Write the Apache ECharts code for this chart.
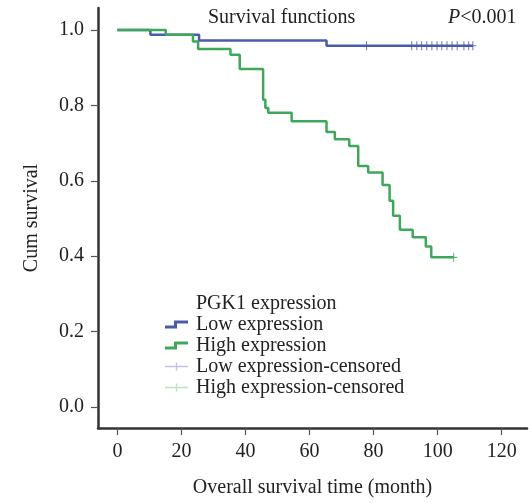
<!DOCTYPE html>
<html>
<head>
<meta charset="utf-8">
<script src="https://cdn.jsdelivr.net/npm/echarts@6/dist/echarts.min.js"></script>
<style>
html,body{margin:0;padding:0;background:#fff;}
#chart{width:529px;height:503px;}
</style>
</head>
<body>
<div id="chart"></div>
<script>
// ---- Data ----
var lowTimes = [0, 10.3, 25.5, 65.3, 111.0];
var lowSurv  = [1.0, 0.987, 0.972, 0.958, 0.958];

var highTimes = [0, 15.1, 23.6, 25.2, 35.3, 38.2, 45.5, 46.2, 47.1, 54.4, 65.3, 67.9, 72.4, 75.2, 78.3, 82.8, 85.0, 86.1, 88.2, 92.2, 96.3, 98.0, 105.0];
var highSurv  = [1.0, 0.987, 0.969, 0.949, 0.934, 0.896, 0.815, 0.793, 0.780, 0.758, 0.729, 0.710, 0.692, 0.639, 0.622, 0.589, 0.547, 0.507, 0.470, 0.450, 0.426, 0.397, 0.397];

var lowCensorTimes  = [77.8, 91.9, 93.5, 95.0, 96.6, 98.2, 99.8, 101.3, 102.9, 104.5, 106.1, 108.2, 109.7, 111.0];
var highCensorTimes = [105.0];

var xTicks = [0, 20, 40, 60, 80, 100, 120];
var yTicks = [0, 0.2, 0.4, 0.6, 0.8, 1.0];

var seriesNames = ['Low expression', 'High expression', 'Low expression-censored', 'High expression-censored'];

// ---- helpers ----
function pairs(t, s) { return t.map(function (v, i) { return [v, s[i]]; }); }
function survAt(t, times, surv) {
  var v = surv[0];
  for (var i = 0; i < times.length; i++) { if (times[i] <= t) v = surv[i]; }
  return v;
}
function censorPts(ct, times, surv) { return ct.map(function (t) { return [t, survAt(t, times, surv)]; }); }

var FONT = '"Liberation Serif", "Times New Roman", serif';
var BLUE = '#4a5ca8';
var GREEN = '#3ea85a';
var stepIcon = 'path://M0,6 H9 V1 H23 V4 H12 V9 H0 Z';
var plusIcon = 'path://M0,3.3 H23 V4.7 H0 Z M10.8,0 H12.2 V8 H10.8 Z';
var censorSym = 'path://M4.3,0 H5.7 V4.4 H10 V5.6 H5.7 V10 H4.3 V5.6 H0 V4.4 H4.3 Z';

var chart = echarts.init(document.getElementById('chart'), null, { renderer: 'canvas' });
chart.setOption({
  backgroundColor: '#ffffff',
  animation: false,
  textStyle: { fontFamily: FONT },
  title: [
    { text: 'Survival functions', left: 203, top: 3,
      textStyle: { fontFamily: FONT, fontSize: 20, fontWeight: 'normal', color: '#222' } },
    { text: '{i|P}<0.001', left: 443, top: 3,
      textStyle: { fontFamily: FONT, fontSize: 20, fontWeight: 'normal', color: '#222',
        rich: { i: { fontFamily: FONT, fontSize: 20, fontStyle: 'italic', color: '#222' } } } },
    { text: 'PGK1 expression', left: 191, top: 289,
      textStyle: { fontFamily: FONT, fontSize: 20, fontWeight: 'normal', color: '#222' } }
  ],
  legend: {
    orient: 'vertical',
    left: 160, top: 309,
    itemGap: 0,
    itemWidth: 23, itemHeight: 8,
    textStyle: { fontFamily: FONT, fontSize: 20, color: '#222', lineHeight: 21, padding: [0, 0, 0, 3] },
    data: [
      { name: seriesNames[0], icon: stepIcon, itemStyle: { color: BLUE } },
      { name: seriesNames[1], icon: stepIcon, itemStyle: { color: GREEN } },
      { name: seriesNames[2], icon: plusIcon, itemStyle: { color: '#b4bcd8' } },
      { name: seriesNames[3], icon: plusIcon, itemStyle: { color: '#b2dcb9' } }
    ]
  },
  grid: { left: 98, right: 2, top: 8, bottom: 74, containLabel: false },
  xAxis: {
    type: 'value', min: -6.06, max: 127.9,
    name: 'Overall survival time (month)', nameLocation: 'middle', nameGap: 50,
    nameTextStyle: { fontFamily: FONT, fontSize: 20, color: '#222' },
    splitLine: { show: false },
    axisLine: { show: true, onZero: false, lineStyle: { color: '#333', width: 2.5 } },
    axisTick: { show: true, length: 7, customValues: xTicks, lineStyle: { color: '#555', width: 1.2 } },
    axisLabel: { customValues: xTicks, margin: 14, fontFamily: FONT, fontSize: 20, color: '#222' }
  },
  yAxis: {
    type: 'value', min: -0.0554, max: 1.058,
    name: 'Cum survival', nameLocation: 'middle', nameGap: 56, nameRotate: 90,
    nameTextStyle: { fontFamily: FONT, fontSize: 20, color: '#222' },
    splitLine: { show: false },
    axisLine: { show: true, onZero: false, lineStyle: { color: '#333', width: 2.5 } },
    axisTick: { show: true, length: 7, customValues: yTicks, lineStyle: { color: '#555', width: 1.2 } },
    axisLabel: { customValues: yTicks, margin: 14, fontFamily: FONT, fontSize: 20, color: '#222',
      formatter: function (v) { return v.toFixed(1); } }
  },
  series: [
    { name: seriesNames[0], type: 'line', step: 'end', symbol: 'none', z: 3,
      data: pairs(lowTimes, lowSurv),
      itemStyle: { color: BLUE },
      lineStyle: { color: BLUE, width: 2.5 } },
    { name: seriesNames[1], type: 'line', step: 'end', symbol: 'none', z: 4,
      data: pairs(highTimes, highSurv),
      itemStyle: { color: GREEN },
      lineStyle: { color: GREEN, width: 2.5 } },
    { name: seriesNames[2], type: 'scatter', symbol: censorSym, symbolSize: [7, 9], z: 5,
      data: censorPts(lowCensorTimes, lowTimes, lowSurv),
      itemStyle: { color: BLUE, opacity: 0.85 } },
    { name: seriesNames[3], type: 'scatter', symbol: censorSym, symbolSize: [7, 9], z: 5,
      data: censorPts(highCensorTimes, highTimes, highSurv),
      itemStyle: { color: GREEN, opacity: 0.85 } }
  ]
});
</script>
</body>
</html>
